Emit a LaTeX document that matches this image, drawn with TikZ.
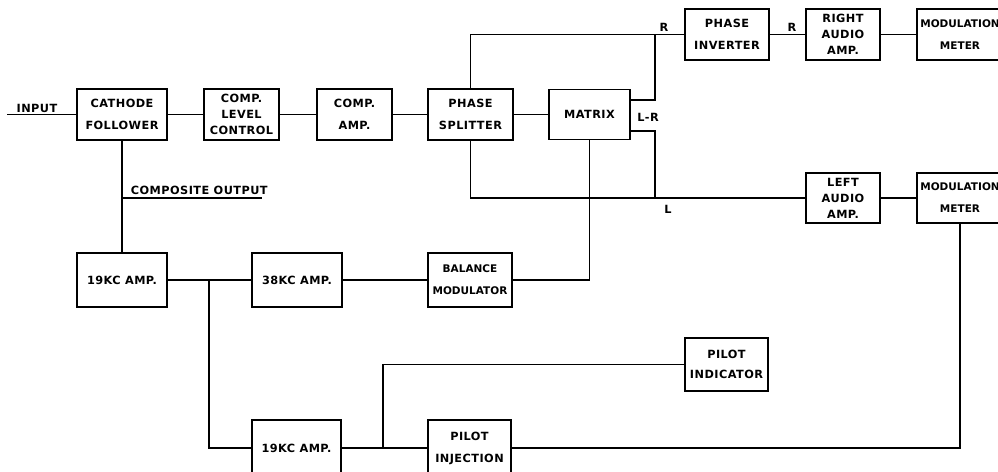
\documentclass[tikz,border=0pt]{standalone}
\usepackage{fontspec}
\setmainfont{DejaVu Sans}
\newfontfamily\labfont[LetterSpace=4]{DejaVu Sans}
\begin{document}
\begin{tikzpicture}[x=1pt,y=-1pt,
  line width=1.8pt,
  blk/.style={draw, line width=1.8pt, inner sep=0pt, align=center,
    font=\labfont\fontsize{11.3}{22}\selectfont\bfseries},
  blkthree/.style={blk, font=\labfont\fontsize{11.3}{16}\selectfont\bfseries},
  blkmod/.style={blk, font=\fontsize{10.5}{22}\selectfont\bfseries},
  lbl/.style={inner sep=0pt, font=\labfont\fontsize{11.3}{12}\selectfont\bfseries},
  wire/.style={draw, line width=1.8pt}]
\useasboundingbox (0,0) rectangle (998,471);
\clip (0,0) rectangle (998,471);
\fill[white] (0,0) rectangle (998,471);

% blocks
\node[blk, minimum width=90, minimum height=51] (cf) at (122,114.5) {CATHODE\\FOLLOWER};
\node[blkthree, minimum width=75, minimum height=51] (clc) at (241.5,114.5) {COMP.\\LEVEL\\CONTROL};
\node[blk, minimum width=75, minimum height=51] (camp) at (354.5,114.5) {COMP.\\AMP.};
\node[blk, minimum width=85, minimum height=51] (ps) at (470.5,114.5) {PHASE\\SPLITTER};
\node[blk, minimum width=81, minimum height=50] (mx) at (589.5,114.5) {MATRIX};
\node[blk, minimum width=84, minimum height=51] (pinv) at (727,34.5) {PHASE\\INVERTER};
\node[blkthree, minimum width=74, minimum height=51] (raa) at (843,34.5) {RIGHT\\AUDIO\\AMP.};
\node[blkmod, minimum width=86, minimum height=51] (mma) at (960,34.5) {MODULATION\\METER};
\node[blkthree, minimum width=74, minimum height=50] (laa) at (843,198) {LEFT\\AUDIO\\AMP.};
\node[blkmod, minimum width=86, minimum height=50] (mmb) at (960,198) {MODULATION\\METER};
\node[blk, minimum width=90, minimum height=54] (ampa) at (122,280) {19KC AMP.};
\node[blk, minimum width=90, minimum height=54] (amp38) at (297,280) {38KC AMP.};
\node[blkmod, minimum width=84, minimum height=54] (bal) at (470,280) {BALANCE\\MODULATOR};
\node[blk, minimum width=89, minimum height=56] (ampb) at (296.5,448) {19KC AMP.};
\node[blk, minimum width=83, minimum height=56] (pinj) at (469.5,448) {PILOT\\INJECTION};
\node[blk, minimum width=83, minimum height=53, font=\labfont\fontsize{11.3}{20}\selectfont\bfseries] (pind) at (726.5,364.5) {PILOT\\INDICATOR};

% coordinates
\coordinate (inp) at (7,114.5);
\coordinate (jc) at (122,198);
\coordinate (co) at (262,198);
\coordinate (jR) at (655,34.5);
\coordinate (jL) at (655,198);
\coordinate (r1) at (0,100);
\coordinate (r2) at (0,131);
\coordinate (j19) at (209,280);
\coordinate (jp) at (383,448);

% connectors
\draw[wire] (inp) -- (cf.west);
\draw[wire] (cf.east) -- (clc.west);
\draw[wire] (clc.east) -- (camp.west);
\draw[wire] (camp.east) -- (ps.west);
\draw[wire] (ps.east) -- (mx.west);
\draw[wire] (ps.north) |- (pinv.west);
\draw[wire] (mx.east |- r1) -| (jR);
\draw[wire] (mx.east |- r2) -| (jL);
\draw[wire] (ps.south) |- (laa.west);
\draw[wire] (pinv.east) -- (raa.west);
\draw[wire] (raa.east) -- (mma.west);
\draw[wire] (laa.east) -- (mmb.west);
\draw[wire] (mx.south) |- (bal.east);
\draw[wire] (cf.south) -- (ampa.north);
\draw[wire] (jc) -- (co);
\draw[wire] (ampa.east) -- (amp38.west);
\draw[wire] (amp38.east) -- (bal.west);
\draw[wire] (j19) |- (ampb.west);
\draw[wire] (ampb.east) -- (pinj.west);
\draw[wire] (jp) |- (pind.west);
\draw[wire] (mmb.south) |- (pinj.east);

% labels
\node[lbl] (tin) at (37,108) {INPUT};
\node[lbl, anchor=west] (tco) at (130,190) {COMPOSITE OUTPUT};
\node[lbl] (tr1) at (664,27) {R};
\node[lbl] (tr2) at (792,27) {R};
\node[lbl] (tlr) at (648,117) {L-R};
\node[lbl] (tl) at (668,209) {L};
\end{tikzpicture}
\end{document}
